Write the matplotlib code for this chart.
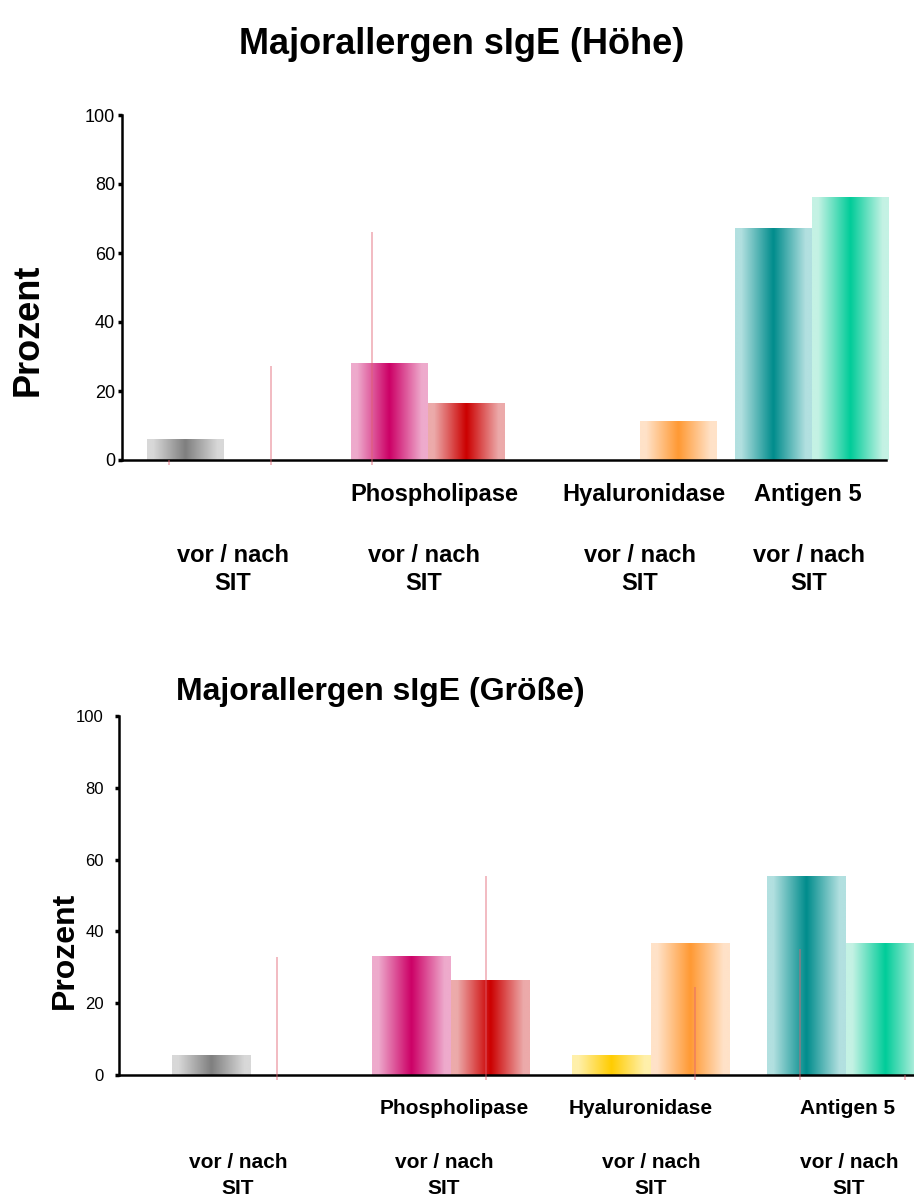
import numpy as np
import matplotlib
matplotlib.use('Agg')
import matplotlib.pyplot as plt
from matplotlib.colors import to_rgb

plt.rcParams['font.family'] = ['Liberation Sans', 'DejaVu Sans']

# values (percent)
groups = ['', 'Phospholipase', 'Hyaluronidase', 'Antigen 5']
sub_top = 'vor / nach'
sub_bottom = 'SIT'
hoehe_vor = [5.8, 28.1, 0, 67.0]
hoehe_nach = [0, 16.5, 11.3, 76.0]
hoehe_lines = [0, 27.3, 66.0]
groesse_vor = [5.3, 33.0, 5.3, 55.2]
groesse_nach = [0, 26.2, 36.5, 36.5]
groesse_lines = [33.0, np.nan, 55.5, np.nan, 24.5, 35.0, 0]
yticks = [0, 20, 40, 60, 80, 100]

# (edge colour, centre colour) per group
vor_colors = [('#d8d8d8', '#7f7f7f'), ('#eeaacc', '#cc0066'),
              ('#fff0aa', '#ffcc00'), ('#b2e0e0', '#008c8c')]
nach_colors = [('#d8d8d8', '#7f7f7f'), ('#ecaaaa', '#cc0000'),
               ('#ffe2c8', '#ff9933'), ('#c4f2e4', '#00cc99')]

W, H = 914, 1196
fig = plt.figure(figsize=(W / 100, H / 100), dpi=100)


def px(x, y):
    return x / W, 1 - y / H


def grad_fill(ax, rect, edge, center):
    h = rect.get_height()
    if h <= 0:
        return
    x0 = rect.get_x()
    w = rect.get_width()
    u = np.linspace(0, 1, 80)
    t = np.clip(np.abs(2 * u - 1) / 0.85, 0, 1)
    cols = np.outer(1 - t, to_rgb(center)) + np.outer(t, to_rgb(edge))
    ax.imshow(cols[np.newaxis, :, :], extent=[x0, x0 + w, 0, h], aspect='auto',
              interpolation='bilinear', zorder=2)


def draw_panel(left, y0, y100, centers, width, vor, nach, line_start, line_step,
               line_vals, axis_end, title, title_xy, title_size, ylab_xy, ylab_size,
               tick_size, tick_pad, cat_x, cat_y, sub_x, sub_y, cat_size):
    l, b = px(left, y0)
    ax = fig.add_axes([l, b, (W - left) / W, (y0 - y100) / H])
    centers = np.array(centers, dtype=float)
    b1 = ax.bar(centers - width, vor, width, align='edge', color='none', zorder=1)
    b2 = ax.bar(centers, nach, width, align='edge', color='none', zorder=1)
    for i, r in enumerate(b1):
        grad_fill(ax, r, *vor_colors[i])
    for i, r in enumerate(b2):
        grad_fill(ax, r, *nach_colors[i])

    lx = line_start + line_step * np.arange(len(line_vals))
    lv = np.array(line_vals, dtype=float)
    ok = ~np.isnan(lv)
    ax.vlines(lx[ok], -1.5, lv[ok], colors='#e06070', alpha=0.5, lw=1.2,
              zorder=3, clip_on=False)

    ax.set_xlim(left, W)
    ax.set_ylim(0, 100)
    ax.set_yticks(yticks)
    ax.set_xticks([])
    ax.tick_params(axis='y', length=3, width=2.5, pad=tick_pad, labelsize=tick_size)
    for s in ['top', 'right']:
        ax.spines[s].set_visible(False)
    ax.spines['left'].set_linewidth(1.8)
    ax.spines['bottom'].set_linewidth(1.8)
    ax.spines['bottom'].set_bounds(left, axis_end)

    fig.text(*px(*title_xy), title, ha='center', va='center',
             fontsize=title_size, fontweight='bold')
    fig.text(*px(*ylab_xy), 'Prozent', ha='center', va='center', rotation=90,
             fontsize=ylab_size, fontweight='bold')
    for cx, g in zip(cat_x, groups[1:]):
        fig.text(*px(cx, cat_y), g, ha='center', va='center',
                 fontsize=cat_size, fontweight='bold')
    for sx in sub_x:
        fig.text(*px(sx, sub_y[0]), sub_top, ha='center', va='center',
                 fontsize=cat_size, fontweight='bold')
        fig.text(*px(sx, sub_y[1]), sub_bottom, ha='center', va='center',
                 fontsize=cat_size, fontweight='bold')
    return ax


draw_panel(122, 460, 115, [224, 428, 640, 812], 77, hoehe_vor, hoehe_nach,
           169, 101.5, hoehe_lines, 886,
           'Majorallergen sIgE (Höhe)', (462, 45), 26, (28, 330), 26,
           13, 2, [434, 644, 808], 495, [233, 424, 640, 809], (555, 583), 17)

draw_panel(119, 1075, 716, [251, 451, 651, 846], 79, groesse_vor, groesse_nach,
           277, 104.6, groesse_lines, 914,
           'Majorallergen sIgE (Größe)', (380, 692), 23, (65, 950), 23,
           12, 8, [454, 641, 848], 1109, [238, 444, 651, 849], (1162, 1188), 15)

fig.savefig('out.png', dpi=100)
